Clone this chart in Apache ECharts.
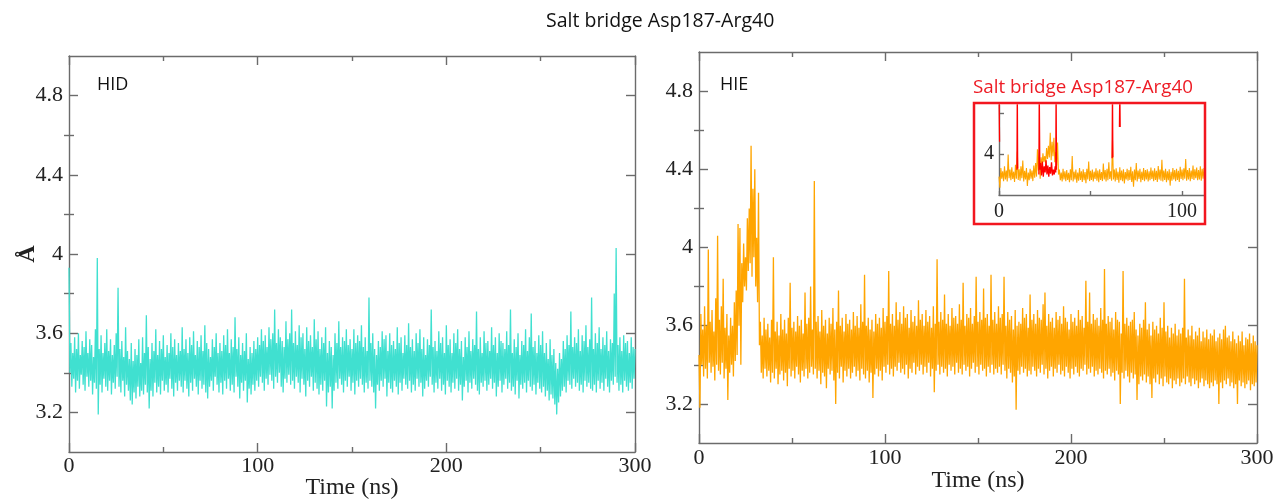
<!DOCTYPE html>
<html><head><meta charset="utf-8">
<script src="https://cdn.jsdelivr.net/npm/echarts@6/dist/echarts.min.js"></script>
<style>html,body{margin:0;padding:0;background:#fff}#c{width:1275px;height:501px}</style>
</head><body><div id="c"></div>
<script>
// ---- data (time in ns, distance in Å) ----
const timeStep = 1;
// HID: high-side samples at t = 0,1,...,300
const hidUpper = [
3.93,3.55,3.50,3.58,3.52,3.60,3.49,3.56,3.53,3.61,3.50,3.57,3.54,3.48,3.62,3.98,3.52,3.59,3.50,3.55,
3.62,3.51,3.57,3.49,3.54,3.60,3.83,3.52,3.56,3.48,3.63,3.51,3.47,3.55,3.46,3.52,3.49,3.57,3.45,3.58,
3.50,3.69,3.53,3.47,3.55,3.51,3.62,3.49,3.56,3.52,3.59,3.48,3.54,3.50,3.60,3.53,3.57,3.49,3.55,3.51,
3.63,3.52,3.57,3.50,3.58,3.54,3.61,3.49,3.56,3.53,3.59,3.51,3.64,3.55,3.52,3.48,3.57,3.53,3.60,3.50,
3.55,3.51,3.59,3.54,3.62,3.50,3.57,3.53,3.68,3.52,3.58,3.49,3.55,3.51,3.60,3.47,3.53,3.50,3.56,3.52,
3.58,3.54,3.62,3.56,3.59,3.53,3.63,3.57,3.60,3.72,3.55,3.62,3.58,3.56,3.53,3.66,3.57,3.60,3.72,3.55,
3.61,3.54,3.64,3.58,3.60,3.52,3.63,3.56,3.59,3.53,3.67,3.57,3.61,3.52,3.58,3.55,3.63,3.50,3.56,3.53,
3.49,3.60,3.55,3.66,3.53,3.58,3.56,3.62,3.54,3.57,3.52,3.62,3.55,3.59,3.56,3.64,3.53,3.58,3.51,3.78,
3.55,3.60,3.52,3.49,3.56,3.53,3.61,3.57,3.59,3.51,3.60,3.54,3.56,3.52,3.63,3.55,3.58,3.50,3.59,3.54,
3.65,3.53,3.57,3.51,3.60,3.55,3.62,3.52,3.58,3.49,3.57,3.54,3.72,3.53,3.56,3.51,3.61,3.55,3.58,3.50,
3.64,3.54,3.57,3.50,3.60,3.55,3.62,3.52,3.56,3.48,3.58,3.53,3.61,3.51,3.57,3.54,3.71,3.52,3.58,3.50,
3.61,3.55,3.56,3.51,3.63,3.54,3.58,3.50,3.60,3.56,3.55,3.52,3.61,3.54,3.72,3.50,3.57,3.53,3.60,3.49,
3.56,3.54,3.62,3.51,3.58,3.70,3.53,3.56,3.50,3.59,3.54,3.61,3.50,3.55,3.47,3.57,3.49,3.52,3.45,3.42,
3.50,3.47,3.56,3.52,3.59,3.54,3.71,3.53,3.58,3.55,3.62,3.51,3.59,3.56,3.64,3.53,3.57,3.78,3.52,3.60,
3.55,3.63,3.52,3.58,3.54,3.61,3.51,3.57,3.55,3.80,4.03,3.54,3.58,3.51,3.59,3.55,3.56,3.50,3.58,3.53,
3.52];
// HID: low-side samples at t = 0.5,1.5,...,299.5
const hidLower = [
3.40,3.33,3.37,3.30,3.36,3.32,3.39,3.34,3.31,3.38,3.33,3.36,3.29,3.35,3.32,3.19,3.34,3.30,3.37,3.33,
3.31,3.36,3.29,3.35,3.32,3.38,3.33,3.30,3.36,3.28,3.34,3.31,3.26,3.24,3.30,3.27,3.33,3.28,3.31,3.29,
3.34,3.30,3.22,3.31,3.28,3.35,3.30,3.33,3.29,3.36,3.31,3.34,3.30,3.37,3.32,3.28,3.35,3.31,3.36,3.33,
3.30,3.36,3.32,3.28,3.35,3.31,3.37,3.33,3.29,3.36,3.32,3.34,3.30,3.27,3.33,3.36,3.31,3.38,3.34,3.30,
3.35,3.29,3.36,3.32,3.37,3.31,3.34,3.30,3.38,3.33,3.27,3.35,3.31,3.36,3.25,3.32,3.29,3.34,3.31,3.36,
3.33,3.38,3.35,3.31,3.37,3.34,3.39,3.36,3.32,3.38,3.35,3.40,3.33,3.30,3.37,3.35,3.39,3.34,3.36,3.32,
3.38,3.35,3.30,3.37,3.34,3.28,3.36,3.33,3.38,3.31,3.35,3.32,3.29,3.34,3.31,3.36,3.23,3.30,3.33,3.22,
3.31,3.35,3.32,3.37,3.34,3.30,3.36,3.33,3.38,3.31,3.35,3.29,3.36,3.33,3.37,3.34,3.30,3.35,3.32,3.36,
3.33,3.30,3.22,3.34,3.31,3.36,3.33,3.37,3.28,3.35,3.32,3.30,3.36,3.33,3.29,3.35,3.31,3.37,3.34,3.32,
3.36,3.30,3.34,3.31,3.37,3.33,3.35,3.28,3.32,3.36,3.33,3.38,3.34,3.30,3.35,3.32,3.37,3.31,3.34,3.29,
3.36,3.33,3.30,3.35,3.32,3.37,3.31,3.34,3.26,3.33,3.36,3.30,3.35,3.32,3.37,3.34,3.31,3.29,3.35,3.33,
3.36,3.31,3.34,3.37,3.32,3.35,3.28,3.33,3.36,3.30,3.34,3.37,3.32,3.35,3.31,3.33,3.29,3.36,3.27,3.34,
3.32,3.35,3.30,3.36,3.33,3.31,3.34,3.29,3.35,3.32,3.30,3.33,3.28,3.31,3.26,3.29,3.27,3.24,3.19,3.25,
3.28,3.31,3.33,3.30,3.36,3.34,3.32,3.37,3.33,3.35,3.31,3.34,3.30,3.36,3.33,3.35,3.32,3.31,3.34,3.30,
3.36,3.32,3.35,3.31,3.37,3.33,3.30,3.36,3.34,3.38,3.35,3.31,3.34,3.30,3.36,3.33,3.31,3.35,3.32,3.37];
// HIE: high-side samples at t = 0,1,...,300
const hieUpper = [
3.45,3.66,3.58,3.70,3.60,3.99,3.62,3.68,3.57,3.74,4.06,3.63,3.70,3.84,3.59,3.66,3.55,3.64,3.60,3.72,
3.78,4.12,4.10,3.92,4.02,3.95,4.15,4.20,4.52,4.30,4.40,4.05,4.28,3.62,3.55,3.64,3.58,3.61,3.54,3.63,
3.95,3.57,3.62,3.55,3.66,3.58,3.63,3.56,3.64,3.82,3.59,3.62,3.57,3.65,3.60,3.63,3.56,3.77,3.61,3.64,
3.80,3.58,4.34,3.62,3.65,3.57,3.68,3.60,3.63,3.56,3.64,3.61,3.69,3.58,3.62,3.78,3.60,3.64,3.57,3.66,
3.61,3.63,3.58,3.67,3.60,3.65,3.59,3.71,3.62,3.86,3.60,3.64,3.58,3.63,3.57,3.66,3.61,3.64,3.59,3.69,
3.62,3.65,3.88,3.61,3.66,3.60,3.72,3.63,3.67,3.61,3.70,3.64,3.66,3.59,3.68,3.62,3.65,3.60,3.73,3.63,
3.66,3.60,3.68,3.62,3.65,3.59,3.70,3.61,3.94,3.62,3.67,3.63,3.76,3.61,3.66,3.60,3.69,3.64,3.65,3.61,
3.71,3.63,3.82,3.60,3.66,3.64,3.69,3.61,3.65,3.85,3.62,3.67,3.63,3.79,3.64,3.66,3.60,3.86,3.63,3.67,
3.61,3.70,3.64,3.66,3.85,3.60,3.67,3.63,3.65,3.58,3.68,3.60,3.62,3.61,3.69,3.64,3.66,3.59,3.76,3.63,
3.66,3.61,3.68,3.64,3.63,3.71,3.77,3.60,3.66,3.62,3.64,3.59,3.67,3.63,3.65,3.61,3.70,3.64,3.62,3.58,
3.66,3.62,3.64,3.60,3.68,3.63,3.65,3.59,3.83,3.62,3.77,3.61,3.66,3.63,3.64,3.60,3.69,3.63,3.89,3.61,
3.65,3.62,3.64,3.58,3.67,3.63,3.62,3.56,3.88,3.61,3.64,3.60,3.62,3.63,3.67,3.58,3.55,3.61,3.59,3.63,
3.72,3.58,3.61,3.55,3.62,3.58,3.60,3.56,3.64,3.59,3.72,3.57,3.60,3.54,3.59,3.56,3.61,3.55,3.58,3.56,
3.59,3.84,3.54,3.58,3.55,3.60,3.53,3.57,3.55,3.59,3.52,3.57,3.54,3.58,3.53,3.56,3.55,3.58,3.52,3.54,
3.56,3.53,3.58,3.60,3.54,3.55,3.52,3.57,3.53,3.51,3.55,3.52,3.57,3.50,3.54,3.53,3.56,3.51,3.55,3.52,
3.50];
// HIE: low-side samples at t = 0.5,1.5,...,299.5
const hieLower = [
3.18,3.40,3.34,3.38,3.33,3.41,3.36,3.39,3.32,3.40,3.37,3.35,3.41,3.33,3.38,3.22,3.36,3.40,3.34,3.42,
3.45,3.60,3.40,3.72,3.80,3.78,3.88,3.92,3.85,3.95,3.80,3.72,3.50,3.36,3.33,3.38,3.34,3.37,3.31,3.36,
3.33,3.38,3.30,3.35,3.37,3.32,3.36,3.29,3.38,3.34,3.37,3.33,3.39,3.35,3.31,3.37,3.34,3.38,3.33,3.36,
3.39,3.35,3.38,3.33,3.37,3.30,3.36,3.34,3.28,3.38,3.35,3.37,3.32,3.20,3.36,3.33,3.39,3.31,3.37,3.34,
3.38,3.33,3.36,3.39,3.34,3.37,3.32,3.38,3.35,3.33,3.37,3.31,3.36,3.23,3.35,3.38,3.34,3.37,3.32,3.39,
3.36,3.40,3.35,3.38,3.34,3.39,3.37,3.41,3.36,3.38,3.35,3.40,3.33,3.38,3.36,3.41,3.35,3.39,3.37,3.40,
3.35,3.39,3.36,3.41,3.34,3.38,3.26,3.37,3.40,3.35,3.39,3.36,3.38,3.34,3.40,3.37,3.39,3.35,3.41,3.36,
3.38,3.35,3.40,3.37,3.39,3.34,3.38,3.41,3.36,3.39,3.35,3.40,3.37,3.38,3.34,3.39,3.36,3.40,3.35,3.38,
3.36,3.39,3.35,3.40,3.37,3.33,3.38,3.36,3.31,3.34,3.17,3.37,3.35,3.39,3.36,3.38,3.34,3.37,3.35,3.39,
3.37,3.34,3.38,3.36,3.40,3.35,3.38,3.33,3.37,3.39,3.34,3.38,3.36,3.40,3.35,3.37,3.34,3.39,3.36,3.33,
3.38,3.35,3.39,3.36,3.34,3.38,3.37,3.40,3.35,3.38,3.36,3.39,3.34,3.37,3.35,3.38,3.36,3.33,3.37,3.35,
3.38,3.34,3.36,3.32,3.37,3.35,3.20,3.36,3.33,3.37,3.34,3.31,3.36,3.33,3.35,3.22,3.30,3.34,3.32,3.35,
3.31,3.34,3.30,3.23,3.33,3.31,3.35,3.30,3.33,3.29,3.34,3.31,3.30,3.33,3.28,3.32,3.30,3.33,3.29,3.31,
3.33,3.30,3.34,3.31,3.29,3.33,3.30,3.32,3.28,3.31,3.33,3.29,3.32,3.30,3.28,3.31,3.29,3.32,3.30,3.20,
3.31,3.28,3.32,3.30,3.33,3.29,3.31,3.28,3.30,3.20,3.32,3.29,3.31,3.28,3.30,3.32,3.27,3.30,3.29,3.31];
// red trace of the inset ('-' breaks the line)
const insetRedPoints = [
[0,5.6],[0.3,4.3],[0.4,'-'],
[9.8,3.62],[10,5.6],[10.2,3.65],[10.3,'-'],
[21.8,3.5],[22,5.6],[22.3,3.62],[22.7,3.78],[23.2,3.48],[23.7,3.82],[24.2,3.45],[24.7,3.7],[25.2,3.55],
[25.7,3.85],[26.2,3.5],[26.7,3.72],[27.2,3.45],[27.7,3.68],[28.2,3.52],[28.7,3.8],[29.2,3.48],[29.7,3.62],
[30.2,3.5],[30.7,3.7],[31,3.55],[31.2,5.6],[31.4,3.62],[31.5,'-'],
[61.8,3.9],[62,5.6],[62.2,3.92],[62.3,'-'],
[65.8,4.66],[66,5.6],[66.2,4.66]
];
const yMajor = [3.2,3.6,4.0,4.4,4.8];
const yMinor = [3.4,3.8,4.2,4.6];
const insetXLabels = [0,100];
const insetXTicks = [0,50,100];
const insetYLabels = [4];
const insetYTicks = [4,5];

function interleave(whole, half){
  const out = [];
  whole.forEach((v,i)=>{
    out.push([i*timeStep, v]);
    if (i < half.length) out.push([(i+0.5)*timeStep, half[i]]);
  });
  return out;
}
const hidData = interleave(hidUpper, hidLower);
const hieData = interleave(hieUpper, hieLower);

const axisColor = '#6b6b6b';
const serif = 'Liberation Serif';
const lineStyle = {color: axisColor, width: 1.4};

function xPair(grid, gap, lblMargin){
  return [
    {type:'value', gridIndex:grid, position:'bottom', min:0, max:300, interval:100,
     axisLine:{show:true, lineStyle, onZero:false},
     axisTick:{show:true, inside:true, length:9, lineStyle},
     minorTick:{show:true, splitNumber:2, length:5, lineStyle},
     splitLine:{show:false},
     axisLabel:{fontFamily:serif, fontSize:22, color:'#222', margin:lblMargin},
     name:'Time (ns)', nameLocation:'middle', nameGap:gap, nameMoveOverlap:false,
     nameTextStyle:{fontFamily:serif, fontSize:24, color:'#222', verticalAlign:'top'}},
    {type:'value', gridIndex:grid, position:'top', min:0, max:300, interval:100,
     axisLine:{show:true, lineStyle, onZero:false},
     axisTick:{show:true, inside:true, length:9, lineStyle},
     minorTick:{show:true, splitNumber:2, length:5, lineStyle},
     splitLine:{show:false}, axisLabel:{show:false}}
  ];
}
function yQuad(grid, withName){
  const base = {type:'value', gridIndex:grid, min:3, max:5, splitLine:{show:false}};
  return [
    Object.assign({}, base, {position:'left',
      axisLine:{show:true, lineStyle, onZero:false},
      axisTick:{show:true, inside:true, length:9, lineStyle, customValues:yMajor},
      axisLabel:{show:true, customValues:yMajor, fontFamily:serif, fontSize:22, color:'#222', margin:6},
      name: withName ? 'Å' : '', nameLocation:'middle', nameGap:29, nameRotate:90, nameMoveOverlap:false,
      nameTextStyle:{fontFamily:serif, fontSize:24, fontWeight:'bold', color:'#222'}}),
    Object.assign({}, base, {position:'left',
      axisLine:{show:false},
      axisTick:{show:true, inside:true, length:5, lineStyle, customValues:yMinor},
      axisLabel:{show:false}}),
    Object.assign({}, base, {position:'right',
      axisLine:{show:true, lineStyle, onZero:false},
      axisTick:{show:true, inside:true, length:9, lineStyle, customValues:yMajor},
      axisLabel:{show:false}}),
    Object.assign({}, base, {position:'right',
      axisLine:{show:false},
      axisTick:{show:true, inside:true, length:5, lineStyle, customValues:yMinor},
      axisLabel:{show:false}})
  ];
}

const chart = echarts.init(document.getElementById('c'), null, {renderer:'canvas'});
chart.setOption({
  animation:false,
  backgroundColor:'#fff',
  title:[
    {text:'Salt bridge Asp187-Arg40', left:541, top:6,
     textStyle:{fontFamily:'Open Sans', fontSize:19.5, fontWeight:'normal', color:'#111'}},
    {text:'HID', left:92, top:71, textStyle:{fontFamily:'Open Sans', fontSize:18, fontWeight:'normal', color:'#111'}},
    {text:'HIE', left:715, top:71, textStyle:{fontFamily:'Open Sans', fontSize:18, fontWeight:'normal', color:'#111'}},
    {text:'Salt bridge Asp187-Arg40', left:968, top:73,
     textStyle:{fontFamily:'Open Sans', fontSize:18.8, fontWeight:'normal', color:'#ee1c25'}}
  ],
  graphic:[{type:'rect', shape:{x:974, y:103, width:231, height:121},
            style:{fill:'none', stroke:'#f2161f', lineWidth:2.5}, z:10}],
  grid:[
    {left:69, top:56, width:566, height:396, outerBoundsMode:'none', containLabel:false},
    {left:699, top:52, width:558, height:391, outerBoundsMode:'none', containLabel:false},
    {left:999, top:105, width:205, height:90, outerBoundsMode:'none', containLabel:false}
  ],
  xAxis:[
    ...xPair(0, 24, 3),
    ...xPair(1, 26, 4),
    {type:'value', gridIndex:2, min:0, max:112,
     axisLine:{show:true, lineStyle, onZero:false},
     axisTick:{show:true, inside:true, length:4, lineStyle, customValues:insetXTicks},
     axisLabel:{show:true, customValues:insetXLabels, fontFamily:serif, fontSize:20, color:'#222', margin:7},
     splitLine:{show:false}}
  ],
  yAxis:[
    ...yQuad(0, true),
    ...yQuad(1, false),
    {type:'value', gridIndex:2, min:3, max:5.2,
     axisLine:{show:true, lineStyle, onZero:false},
     axisTick:{show:true, inside:true, length:5, lineStyle, customValues:insetYTicks},
     axisLabel:{show:true, customValues:insetYLabels, fontFamily:serif, fontSize:20, color:'#222', margin:5},
     splitLine:{show:false}}
  ],
  series:[
    {type:'line', name:'HID', xAxisIndex:0, yAxisIndex:0, data:hidData, showSymbol:false,
     lineStyle:{color:'#40e0d0', width:1.3}, itemStyle:{color:'#40e0d0'}},
    {type:'line', name:'HIE', xAxisIndex:2, yAxisIndex:4, data:hieData, showSymbol:false,
     lineStyle:{color:'#ffa500', width:1.3}, itemStyle:{color:'#ffa500'}},
    {type:'line', name:'HIE inset', xAxisIndex:4, yAxisIndex:8, data:hieData, showSymbol:false,
     lineStyle:{color:'#ffa500', width:1.1}, itemStyle:{color:'#ffa500'}},
    {type:'line', name:'inset red', xAxisIndex:4, yAxisIndex:8, data:insetRedPoints, showSymbol:false,
     connectNulls:false, lineStyle:{color:'#ff0000', width:1.3}, itemStyle:{color:'#ff0000'}}
  ]
});
</script></body></html>
